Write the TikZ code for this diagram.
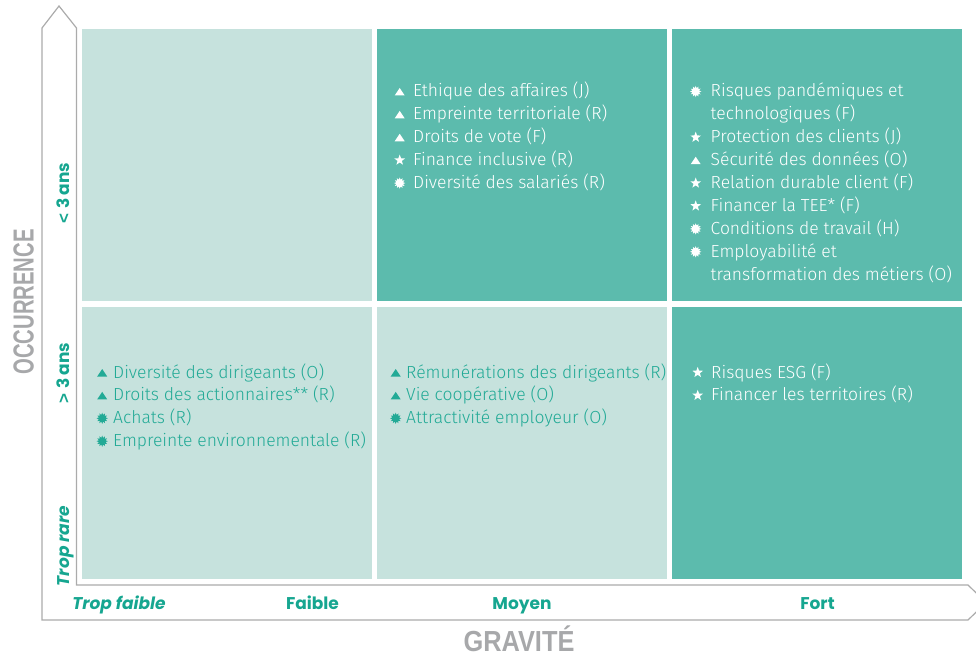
\documentclass[tikz,border=0pt]{standalone}
\usepackage{fontspec}
\usepackage{graphicx}
\setmainfont{Fira Sans Light}
\newfontfamily\popf{Poppins}
\newfontfamily\condf{Liberation Sans}
\definecolor{cellA}{HTML}{C6E2DD}
\definecolor{cellB}{HTML}{5CBBAD}
\definecolor{tealT}{HTML}{22AA96}
\definecolor{tealL}{HTML}{16A690}
\definecolor{grayT}{HTML}{A7A8AA}
\definecolor{axisC}{HTML}{ABABAB}
\newcommand\btri{\tikz[x=1pt,y=1pt,baseline=0pt]\fill (0,1.5) -- (10,1.5) -- (5,9) -- cycle;}
\newcommand\bstar{\tikz[x=1pt,y=1pt,baseline=-5.5pt]\fill (90:5.6) \foreach \a/\r in {126/2.3,162/5.6,198/2.3,234/5.6,270/2.3,306/5.6,342/2.3,18/5.6,54/2.3}{ -- (\a:\r)} -- cycle;}
\newcommand\bburst{\tikz[x=1pt,y=1pt,baseline=-5.5pt]\fill (0:5.6) \foreach \i in {1,...,23}{ -- ({\i*15}:{ifthenelse(isodd(\i),3.5,5.6)})} -- cycle;}
\newcommand\bul[1]{\makebox[11pt]{#1}}
\begin{document}
\begin{tikzpicture}[x=1pt,y=-1pt,
  lst/.style={inner sep=0pt, anchor=base west, font=\fontsize{17.5}{22.9}\selectfont},
  lab/.style={inner sep=0pt, text=tealL, font=\popf\bfseries\fontsize{17}{20}\selectfont},
  ttl/.style={inner sep=0pt, text=grayT, font=\condf\bfseries\fontsize{29}{30}\selectfont},
  axisline/.style={draw=axisC, line width=1.2pt, line join=miter}]
\useasboundingbox (0,0) rectangle (976,658);
% cells
\fill[cellA] (82,29) rectangle (372,301);
\fill[cellB] (377,29) rectangle (667,301);
\fill[cellB] (672,29) rectangle (962,301);
\fill[cellA] (82,307) rectangle (372,579);
\fill[cellA] (377,307) rectangle (667,579);
\fill[cellB] (672,307) rectangle (962,579);
% axes outline
\draw[axisline] (42,620) -- (42,28) -- (59,6) -- (76.5,28) -- (76.5,585) -- (968,585) -- (986,602.5) -- (968,620) -- cycle;
% top middle
\node[lst, text=white] (tm) at (394,97) {\begin{tabular}[t]{@{}c@{\hspace{8pt}}l@{}}
\bul{\btri} & Ethique des affaires (J)\\
\bul{\btri} & Empreinte territoriale (R)\\
\bul{\btri} & Droits de vote (F)\\
\bul{\bstar} & Finance inclusive (R)\\
\bul{\bburst} & Diversité des salariés (R)
\end{tabular}};
% top right
\node[lst, text=white] (tr) at (690,97) {\begin{tabular}[t]{@{}c@{\hspace{9.5pt}}l@{}}
\bul{\bburst} & Risques pandémiques et\\
 & technologiques (F)\\
\bul{\bstar} & Protection des clients (J)\\
\bul{\btri} & Sécurité des données (O)\\
\bul{\bstar} & Relation durable client (F)\\
\bul{\bstar} & Financer la TEE* (F)\\
\bul{\bburst} & Conditions de travail (H)\\
\bul{\bburst} & Employabilité et\\
 & transformation des métiers (O)
\end{tabular}};
% bottom left
\node[lst, text=tealT] (bl) at (96.5,378) {\begin{tabular}[t]{@{}c@{\hspace{5.5pt}}l@{}}
\bul{\btri} & Diversité des dirigeants (O)\\
\bul{\btri} & Droits des actionnaires** (R)\\
\bul{\bburst} & Achats (R)\\
\bul{\bburst} & Empreinte environnementale (R)
\end{tabular}};
% bottom middle
\node[lst, text=tealT] (bm) at (390,378) {\begin{tabular}[t]{@{}c@{\hspace{5pt}}l@{}}
\bul{\btri} & Rémunérations des dirigeants (R)\\
\bul{\btri} & Vie coopérative (O)\\
\bul{\bburst} & Attractivité employeur (O)
\end{tabular}};
% bottom right
\node[lst, text=white] (br) at (692,378) {\begin{tabular}[t]{@{}c@{\hspace{8pt}}l@{}}
\bul{\bstar} & Risques ESG (F)\\
\bul{\bstar} & Financer les territoires (R)
\end{tabular}};
% axis labels
\node[lab, anchor=base] (g0) at (119,609) {\itshape Trop faible};
\node[lab, anchor=base] (g1) at (312.5,609) {Faible};
\node[lab, anchor=base] (g2) at (522,609) {Moyen};
\node[lab, anchor=base] (g3) at (817.5,609) {Fort};
\node[lab, rotate=90, anchor=base] (o2) at (69.5,193) {{\condf\bfseries <}\hspace{4.5pt}3 ans};
\node[lab, rotate=90, anchor=base] (o1) at (69.5,373) {{\condf\bfseries >}\hspace{4.5pt}3 ans};
\node[lab, rotate=90, anchor=base] (o0) at (69.5,546) {\itshape Trop rare};
\node[ttl, rotate=90, anchor=base] (occ) at (33.5,302) {\scalebox{0.70}[1]{OCCURRENCE}};
\node[ttl, anchor=base] (grav) at (519,651.5) {\scalebox{0.875}[1]{GRAVITÉ}};
\end{tikzpicture}
\end{document}
